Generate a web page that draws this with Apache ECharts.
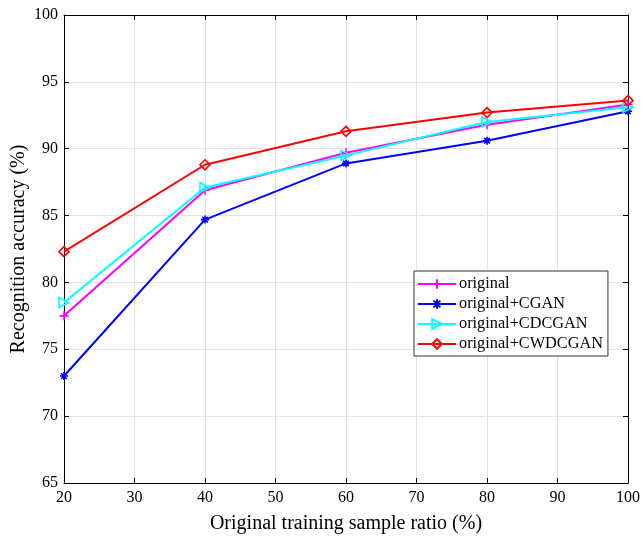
<!DOCTYPE html>
<html><head><meta charset="utf-8">
<script src="https://cdn.jsdelivr.net/npm/echarts@6/dist/echarts.min.js"></script>
<style>html,body{margin:0;padding:0;background:#fff}#c{width:643px;height:538px}</style>
</head><body><div id="c"></div>
<script>
const ratios = [20, 40, 60, 80, 100];
const original = [77.5, 86.9, 89.7, 91.8, 93.3];
const originalCGAN = [73.0, 84.7, 88.9, 90.6, 92.8];
const originalCDCGAN = [78.5, 87.1, 89.5, 92.0, 93.1];
const originalCWDCGAN = [82.3, 88.8, 91.3, 92.7, 93.6];
const seriesNames = ['original', 'original+CGAN', 'original+CDCGAN', 'original+CWDCGAN'];
const xTicks = [20, 30, 40, 50, 60, 70, 80, 90, 100];
const yTicks = [65, 70, 75, 80, 85, 90, 95, 100];

const colors = ['#ff00ff', '#0000ff', '#00ffff', '#ff0000'];
const symbols = [
  'path://M5,0L5,10M0,5L10,5',
  'path://M5,0L5,10M0,5L10,5M1.5,1.5L8.5,8.5M8.5,1.5L1.5,8.5',
  'path://M0,0L10,5L0,10Z',
  'path://M5,0L10,5L5,10L0,5Z'
];
const sizes = [9, 8, 10, 10];
const values = [original, originalCGAN, originalCDCGAN, originalCWDCGAN];
const font = '"Liberation Serif", "Times New Roman", serif';

const chart = echarts.init(document.getElementById('c'));
const axisLine = {show: true, lineStyle: {color: '#000', width: 1}};
const tick = {show: true, inside: true, length: 5, lineStyle: {color: '#000'}};
chart.setOption({
  animation: false,
  backgroundColor: '#fff',
  grid: {left: 64, right: 15, top: 15, bottom: 55, containLabel: false, outerBoundsMode: 'none'},
  legend: {
    left: 414, top: 271, orient: 'vertical',
    padding: [5, 5, 4, 3],
    itemGap: 4,
    itemWidth: 38, itemHeight: 12,
    borderColor: '#333', borderWidth: 1, backgroundColor: '#fff',
    textStyle: {fontFamily: font, fontSize: 16.3, color: '#000', padding: [0, 0, 0, -2]},
    data: seriesNames
  },
  xAxis: [{
    type: 'value', min: 20, max: 100, interval: 10,
    name: 'Original training sample ratio (%)', nameLocation: 'middle', nameGap: 31,
    nameTextStyle: {fontFamily: font, fontSize: 20, color: '#000'},
    axisLine: axisLine, axisTick: tick,
    axisLabel: {fontFamily: font, fontSize: 16, color: '#000', margin: 7, formatter: v => xTicks.includes(v) ? String(v) : ''},
    splitLine: {show: true, lineStyle: {color: '#e3e3e3', width: 1}}
  }, {
    type: 'value', position: 'top', min: 20, max: 100, interval: 10,
    axisLine: axisLine, axisTick: tick, axisLabel: {show: false}, splitLine: {show: false}
  }],
  yAxis: [{
    type: 'value', min: 65, max: 100, interval: 5,
    name: 'Recognition accuracy (%)', nameLocation: 'middle', nameGap: 35, nameMoveOverlap: false,
    nameTextStyle: {fontFamily: font, fontSize: 20, color: '#000'},
    axisLine: axisLine, axisTick: tick,
    axisLabel: {fontFamily: font, fontSize: 16, color: '#000', margin: 6, formatter: v => yTicks.includes(v) ? String(v) : ''},
    splitLine: {show: true, lineStyle: {color: '#e3e3e3', width: 1}}
  }, {
    type: 'value', position: 'right', min: 65, max: 100, interval: 5,
    axisLine: axisLine, axisTick: tick, axisLabel: {show: false}, splitLine: {show: false}
  }],
  series: seriesNames.map((name, i) => ({
    name: name,
    type: 'line',
    data: ratios.map((x, j) => [x, values[i][j]]),
    symbol: symbols[i],
    symbolSize: sizes[i],
    showAllSymbol: true,
    lineStyle: {color: colors[i], width: 2},
    itemStyle: {color: (i === 2 || i === 3) ? 'rgba(255,255,255,0)' : colors[i], borderColor: colors[i], borderWidth: 1.6},
    z: 2 + (i === 3 ? 3 : i)
  }))
});
</script></body></html>
